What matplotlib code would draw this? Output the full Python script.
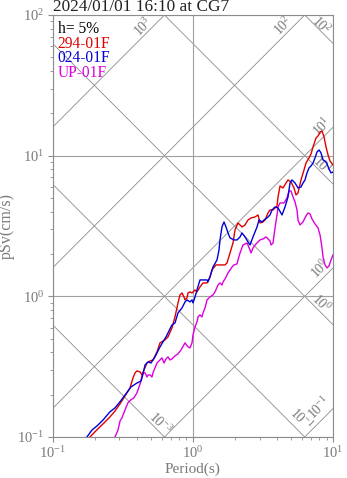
import numpy as np
import matplotlib
matplotlib.use("Agg")
import matplotlib.pyplot as plt

# === Spectra (period s, pSv cm/s) ===
period_294 = [0.185, 0.201, 0.218, 0.237, 0.257, 0.279, 0.303, 0.329, 0.357, 0.375,
              0.388, 0.400, 0.421, 0.435, 0.449, 0.472, 0.496, 0.521, 0.556, 0.584,
              0.634, 0.666, 0.711, 0.747, 0.785, 0.811, 0.838, 0.866, 0.881, 0.910,
              0.925, 0.956, 0.988, 1.021, 1.038, 1.072, 1.126, 1.183, 1.264, 1.327,
              1.372, 1.465, 1.616, 1.698, 1.755, 1.844, 1.936, 2.001, 2.102, 2.245,
              2.358, 2.477, 2.602, 2.779, 2.919, 3.017, 3.169, 3.274, 3.440, 3.555,
              3.734, 3.988, 4.054, 4.190, 4.401, 4.623, 4.777, 5.018, 5.271, 5.446,
              5.628, 5.912, 6.210, 6.417, 6.742, 6.968, 7.201, 7.566, 7.818, 8.080,
              8.350, 8.629, 8.916, 9.213, 9.519, 10.0]
sv_294 = [0.100, 0.109, 0.118, 0.128, 0.139, 0.153, 0.172, 0.196, 0.223, 0.263,
          0.286, 0.295, 0.290, 0.276, 0.300, 0.336, 0.347, 0.353, 0.403, 0.467,
          0.490, 0.515, 0.596, 0.714, 0.898, 1.023, 1.057, 0.990, 0.943, 0.974,
          1.057, 1.075, 1.057, 1.092, 1.110, 1.075, 1.166, 1.245, 1.245, 1.374,
          1.540, 1.672, 1.672, 1.672, 1.728, 2.034, 2.396, 2.964, 3.324, 3.114,
          3.217, 3.491, 3.608, 3.667, 3.790, 3.324, 3.379, 3.491, 3.916, 4.113,
          4.113, 4.391, 5.087, 6.090, 5.894, 6.397, 6.719, 6.503, 5.894, 5.256,
          5.431, 6.719, 7.912, 8.873, 9.630, 10.28, 11.53, 13.36, 13.80, 14.74,
          14.98, 13.58, 11.53, 10.12, 9.17, 8.59]

period_024 = [0.176, 0.191, 0.208, 0.229, 0.257, 0.279, 0.303, 0.329, 0.363, 0.400,
              0.428, 0.442, 0.457, 0.480, 0.504, 0.538, 0.584, 0.613, 0.645, 0.688,
              0.711, 0.747, 0.785, 0.838, 0.881, 0.910, 0.956, 0.988, 1.004, 1.038,
              1.072, 1.126, 1.183, 1.264, 1.284, 1.327, 1.394, 1.489, 1.539, 1.564,
              1.616, 1.670, 1.726, 1.784, 1.844, 1.968, 2.068, 2.173, 2.245, 2.358,
              2.477, 2.560, 2.689, 2.872, 2.968, 3.117, 3.221, 3.384, 3.555, 3.674,
              3.859, 4.054, 4.330, 4.548, 4.777, 4.936, 5.101, 5.358, 5.628, 5.912,
              6.109, 6.313, 6.524, 6.742, 6.968, 7.201, 7.442, 7.691, 7.948, 8.213,
              8.488, 8.770, 9.063, 9.365, 9.676, 10.0]
sv_024 = [0.100, 0.112, 0.120, 0.132, 0.151, 0.161, 0.178, 0.199, 0.227, 0.242,
          0.250, 0.281, 0.325, 0.342, 0.336, 0.371, 0.437, 0.474, 0.515, 0.587,
          0.626, 0.647, 0.762, 0.827, 0.913, 0.943, 0.913, 0.943, 0.898, 0.990,
          1.110, 1.308, 1.308, 1.308, 1.266, 1.374, 1.618, 1.815, 2.137, 2.517,
          3.114, 3.379, 3.114, 2.822, 2.601, 2.517, 2.517, 2.644, 2.822, 2.644,
          2.436, 2.319, 2.644, 3.114, 3.491, 3.379, 3.491, 3.608, 3.790, 4.113,
          4.320, 4.250, 3.790, 4.320, 5.087, 6.397, 6.719, 6.397, 5.894, 5.991,
          6.397, 6.719, 7.535, 8.176, 8.450, 8.873, 9.630, 10.62, 10.98, 10.45,
          9.32, 9.17, 8.73, 8.04, 7.54, 7.66]

period_up = [0.279, 0.293, 0.303, 0.313, 0.329, 0.345, 0.363, 0.381, 0.400, 0.421,
             0.435, 0.442, 0.457, 0.472, 0.480, 0.496, 0.512, 0.521, 0.538, 0.556,
             0.574, 0.584, 0.603, 0.624, 0.645, 0.666, 0.688, 0.711, 0.747, 0.785,
             0.825, 0.881, 0.925, 0.956, 0.988, 1.004, 1.038, 1.072, 1.090, 1.126,
             1.164, 1.183, 1.223, 1.264, 1.327, 1.394, 1.441, 1.514, 1.564, 1.616,
             1.643, 1.698, 1.784, 1.844, 1.905, 1.968, 2.068, 2.102, 2.173, 2.282,
             2.437, 2.560, 2.602, 2.689, 2.825, 3.017, 3.169, 3.329, 3.555, 3.614,
             3.734, 3.859, 3.988, 4.054, 4.190, 4.474, 4.699, 4.856, 5.018, 5.185,
             5.358, 5.536, 5.628, 5.815, 6.109, 6.417, 6.632, 6.855, 7.084, 7.442,
             7.818, 8.080, 8.350, 8.488, 8.770, 9.063, 9.365, 9.676, 10.0]
sv_up = [0.100, 0.112, 0.130, 0.137, 0.156, 0.175, 0.184, 0.190, 0.206, 0.238,
         0.272, 0.286, 0.286, 0.267, 0.276, 0.276, 0.267, 0.286, 0.310, 0.336,
         0.347, 0.353, 0.365, 0.336, 0.359, 0.371, 0.353, 0.359, 0.377, 0.390,
         0.416, 0.467, 0.437, 0.430, 0.467, 0.532, 0.606, 0.658, 0.714, 0.738,
         0.714, 0.762, 0.827, 0.943, 0.990, 1.023, 1.075, 1.205, 1.245, 1.205,
         1.266, 1.329, 1.466, 1.540, 1.618, 1.672, 1.700, 1.815, 2.034, 2.319,
         2.396, 2.137, 2.034, 2.208, 2.357, 2.517, 2.559, 2.644, 2.476, 2.319,
         2.396, 3.063, 3.790, 4.320, 4.612, 4.612, 5.005, 5.612, 5.612, 5.087,
         4.688, 4.113, 3.491, 3.217, 3.379, 3.728, 3.916, 3.852, 3.549, 3.270,
         3.063, 2.732, 2.208, 1.905, 1.672, 1.592, 1.645, 1.815, 1.969]

# tripartite guide levels
sa_levels = [1000, 100, 10, 1, 0.1]          # cm/s^2
sa_text = ["3", "2", "1", "0", "-1"]
sd_levels = [100, 10, 1, 0.1, 0.01]          # cm
sd_text = ["2", "1", "0", "-1", "-3"]

# where the guide labels sit (period on the line, offset in pixels)
sa_label_T = [0.480, 4.82, 9.21, 8.92, 8.99]
sa_label_off = [5, 5, 5.5, 6, 7.5]
sd_label_T = [7.82, 7.88, 7.63, 5.27, 0.542]
sd_label_off = [3.5, 4, 5, 7, 4.5]

title = "2024/01/01 16:10 at CG7"
legend_items = [("h= 5%", "black"), ("294-01F", "#e00000"),
                ("024-01F", "#0000d8"), ("UP-01F", "#dd00dd")]

plt.rcParams["font.family"] = ["Liberation Serif", "DejaVu Serif"]
grey = "#7a7a7a"

fig = plt.figure(figsize=(3.47, 4.78), dpi=100)
ax = fig.add_axes([0.1513, 0.0858, 0.8084, 0.8828])
ax.set_xscale("log")
ax.set_yscale("log")

# === guide lines ===
T_line = np.array([0.05, 20.0])
for sa in sa_levels:
    ax.plot(T_line, sa * T_line / (2 * np.pi), color="#8c8c8c", lw=0.6, zorder=1)
for sd in sd_levels:
    ax.plot(T_line, 2 * np.pi * sd / T_line, color="#8c8c8c", lw=0.6, zorder=1)

for sa, lab, t, off in zip(sa_levels, sa_text, sa_label_T, sa_label_off):
    ax.annotate(r"$\mathdefault{10^{%s}}$" % lab, xy=(t, sa * t / (2 * np.pi)),
                xytext=(-off, off), textcoords="offset pixels", rotation=45,
                rotation_mode="anchor", ha="center", va="center",
                fontsize=10, color=grey, zorder=2)
for sd, lab, t, off in zip(sd_levels, sd_text, sd_label_T, sd_label_off):
    ax.annotate(r"$\mathdefault{10^{%s}}$" % lab, xy=(t, 2 * np.pi * sd / t),
                xytext=(off, off), textcoords="offset pixels", rotation=-45,
                rotation_mode="anchor", ha="center", va="center",
                fontsize=10, color=grey, zorder=2)

# === spectra ===
ax.plot(period_294, sv_294, color="#e00000", lw=1.0, zorder=4)
ax.plot(period_024, sv_024, color="#0000d8", lw=1.0, zorder=5)
ax.plot(period_up, sv_up, color="#dd00dd", lw=1.0, zorder=3)

ax.set_xlim(0.1, 10)
ax.set_ylim(0.1, 100)
ax.grid(True, which="major", color="#a0a0a0", lw=0.8, zorder=0)
for s in ax.spines.values():
    s.set_color("#8c8c8c")
ax.tick_params(which="both", direction="out", colors="#8c8c8c",
               labelcolor=grey, labelsize=10.5, top=False, right=False, pad=2.5)
ax.tick_params(which="major", length=3.6)
ax.tick_params(which="minor", length=2.2)
ax.set_xlabel("Period(s)", fontsize=11, color=grey, va="baseline")
ax.set_ylabel("pSv(cm/s)", fontsize=11.5, color=grey)
ax.xaxis.set_label_coords(0.5, -0.085)
ax.yaxis.set_label_coords(-0.135, 0.5)

ax.annotate(title, xy=(0, 1), xycoords="axes fraction", xytext=(0, 4),
            textcoords="offset pixels", ha="left", va="baseline",
            fontsize=12.4, color="#222222")
for i, (txt, col) in enumerate(legend_items):
    ax.annotate(txt, xy=(0, 1), xycoords="axes fraction",
                xytext=(5, -14 - 14.7 * i), textcoords="offset pixels",
                ha="left", va="center", fontsize=11.2, color=col, zorder=6)

fig.savefig("out.png", dpi=100)
